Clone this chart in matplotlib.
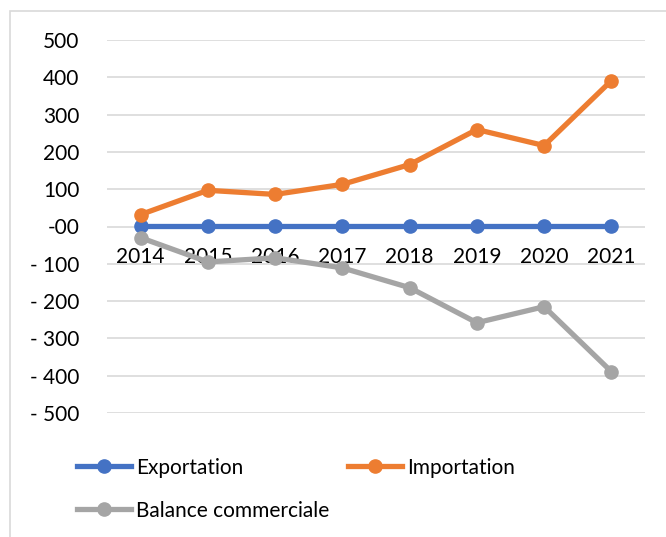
import matplotlib
matplotlib.use("Agg")
from matplotlib import pyplot as plt
from matplotlib.patches import Rectangle

years = ["2014", "2015", "2016", "2017", "2018", "2019", "2020", "2021"]
exportation = [2, 2, 2, 2, 2, 2, 2, 2]
importation = [32, 97, 86, 113, 166, 260, 217, 391]
balance = [-30, -95, -84, -111, -164, -258, -215, -389]

y_ticks = [-500, -400, -300, -200, -100, 0, 100, 200, 300, 400, 500]
y_labels = ["- 500", "- 400", "- 300", "- 200", "- 100", "-00",
            "100", "200", "300", "400", "500"]

plt.rcParams['font.family'] = ['Lato', 'DejaVu Sans']

fig = plt.figure(figsize=(6.66, 5.37), dpi=100)
fig.patches.append(Rectangle((10 / 666, -0.1), 1.2, 1 - 11 / 537 + 0.1,
                             transform=fig.transFigure, fill=False,
                             edgecolor='#D9D9D9', linewidth=1.2))

ax = fig.add_axes([107 / 666, 1 - 413 / 537, 538 / 666, 373 / 537])
x = range(len(years))

l1, = ax.plot(x, exportation, color='#4472C4', lw=3.8, marker='o', ms=9.5,
              label='Exportation', zorder=3)
l2, = ax.plot(x, importation, color='#ED7D31', lw=3.8, marker='o', ms=9.5,
              label='Importation', zorder=3)
l3, = ax.plot(x, balance, color='#A5A5A5', lw=3.8, marker='o', ms=9.5,
              label='Balance commerciale', zorder=3)

ax.set_xlim(-0.5, len(years) - 0.5)
ax.set_ylim(-500, 500)
ax.set_yticks(y_ticks)
ax.set_yticklabels(y_labels)
ax.set_xticks(list(x))
ax.set_xticklabels(years)
ax.grid(axis='y', color='#D9D9D9', lw=1.2)
ax.set_axisbelow(True)
for s in ax.spines.values():
    s.set_visible(False)
ax.spines['bottom'].set_position(('data', 0))
ax.tick_params(axis='x', length=0, pad=15, labelsize=15, colors='#000000')
ax.tick_params(axis='y', length=0, pad=20, labelsize=15, colors='#000000')

fig.legend([l1, l3, l2], ['Exportation', 'Balance commerciale', 'Importation'],
           ncol=2, loc='upper left', bbox_to_anchor=(58 / 666, 1 - 439 / 537),
           frameon=False, fontsize=15, handlelength=2.6, handletextpad=0.25,
           columnspacing=0.9, labelspacing=1.1)

fig.savefig('out.png', dpi=100)
